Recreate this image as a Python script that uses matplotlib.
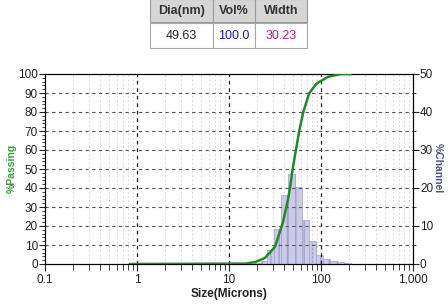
import numpy as np
import matplotlib
matplotlib.use('Agg')
import matplotlib.pyplot as plt
from matplotlib.patches import Rectangle
from matplotlib.ticker import FixedLocator, FixedFormatter, MultipleLocator

plt.rcParams['font.family'] = ['Liberation Sans', 'DejaVu Sans']

# tablo
tablo_baslik = ['Dia(nm)', 'Vol%', 'Width']
tablo_deger = ['49.63', '100.0', '30.23']
tablo_renk = ['#222222', '#1c1ca0', '#b02098']

# kanal (histogram) verisi - kanal kenarlari (micron) ve % kanal
kanal_kenar = [18.5, 22.0, 26.16, 31.11, 37.0, 44.0, 52.33, 62.23, 74.0, 88.0,
               104.7, 124.5, 148.0, 176.0, 209.3]
kanal_yuzde = [0.3, 0.8, 3.7, 9.2, 18.2, 23.7, 20.2, 11.6, 6.0, 2.4,
               1.3, 0.8, 0.4, 0.15]

# kumulatif (% passing) egrisi
boyut = [0.84, 15.0, 19.2, 24.6, 31.6, 38.6, 43.8, 46.0, 49.2, 53.4, 58.0,
         64.2, 74.6, 89.7, 119.0, 148.0, 168.0, 209.3]
gecen = [0, 0.2, 1.0, 3.2, 9.0, 22.0, 34.0, 40.0, 50.0, 60.0, 70.0,
         80.0, 90.0, 95.0, 98.5, 99.5, 100.0, 100.0]

x_tikler = [0.1, 1, 10, 100, 1000]
x_etiket = ['0.1', '1', '10', '100', '1,000']

W, H = 448, 305
fig = plt.figure(figsize=(W / 100, H / 100), dpi=100)

# --- ana grafik ---
ax = fig.add_axes([45 / W, 41 / H, 368 / W, 190 / H])
ax2 = ax.twinx()

ax.set_xscale('log')
ax.set_xlim(0.1, 1000)
ax.set_ylim(0, 100)
ax2.set_ylim(0, 50)

# izgara
kucuk = [m * 10.0 ** d for d in range(-1, 3) for m in range(2, 10)]
for v in kucuk:
    ax.axvline(v, color='#cfcfcf', lw=0.6, ls=(0, (2, 3)), zorder=0)
for v in [1, 10, 100]:
    ax.axvline(v, color='#222222', lw=0.9, ls=(0, (3, 3)), zorder=0)
for v in range(10, 100, 10):
    ax.axhline(v, color='#555555', lw=0.8, ls=(0, (3, 3)), zorder=0)

# histogram
kenar = np.array(kanal_kenar)
ax2.bar(kenar[:-1], kanal_yuzde, width=np.diff(kenar), align='edge',
        color='#cbcbe8', edgecolor='#a0a0cc', lw=0.5, hatch='||', zorder=2)

# kumulatif egri
ax.plot(boyut, gecen, color='#23882a', lw=1.8, zorder=5)
ax.set_zorder(ax2.get_zorder() + 1)
ax.patch.set_visible(False)

# eksenler
ax.xaxis.set_major_locator(FixedLocator(x_tikler))
ax.xaxis.set_major_formatter(FixedFormatter(x_etiket))
ax.xaxis.set_minor_locator(FixedLocator(kucuk))
ax.yaxis.set_major_locator(MultipleLocator(10))
ax.yaxis.set_minor_locator(MultipleLocator(2))
ax2.yaxis.set_major_locator(MultipleLocator(10))
ax2.yaxis.set_minor_locator(MultipleLocator(5))

for a in (ax, ax2):
    a.tick_params(which='major', length=4, width=0.8, labelsize=8.5,
                  colors='#222222', pad=1)
    a.tick_params(which='minor', length=2, width=0.6, color='#222222')
    for s in a.spines.values():
        s.set_linewidth(0.8)
ax.tick_params(axis='x', which='major', length=5, pad=2)
ax.tick_params(axis='x', which='minor', length=4)

ax.set_xlabel('Size(Microns)', fontsize=8.5, fontweight='bold',
              color='#222222', labelpad=2)
fig.text(12 / W, 1 - 168 / H, '%Passing', fontsize=7.5, fontweight='bold',
         color='#3b9a3b', rotation=90, ha='center', va='center')
fig.text(438 / W, 1 - 168 / H, '%Channel', fontsize=7.5, fontweight='bold',
         color='#50508e', rotation=-90, ha='center', va='center')

# --- tablo ---
axt = fig.add_axes([0, 0, 1, 1])
axt.set_xlim(0, W)
axt.set_ylim(H, 0)
axt.axis('off')
kolon = [150, 213, 255, 307]
for i in range(3):
    x0, x1 = kolon[i], kolon[i + 1]
    axt.add_patch(Rectangle((x0, -1), x1 - x0, 23, fc='#d6d6d6',
                            ec='#9a9a9a', lw=0.8))
    axt.add_patch(Rectangle((x0, 23), x1 - x0, 25, fc='white',
                            ec='#a8a8a8', lw=0.8))
    xc = (x0 + x1) / 2
    axt.text(xc, 11, tablo_baslik[i], ha='center', va='center', fontsize=9,
             fontweight='bold', color='#333333')
    axt.text(xc, 36, tablo_deger[i], ha='center', va='center', fontsize=9,
             color=tablo_renk[i])

fig.savefig('out.png', dpi=100)
